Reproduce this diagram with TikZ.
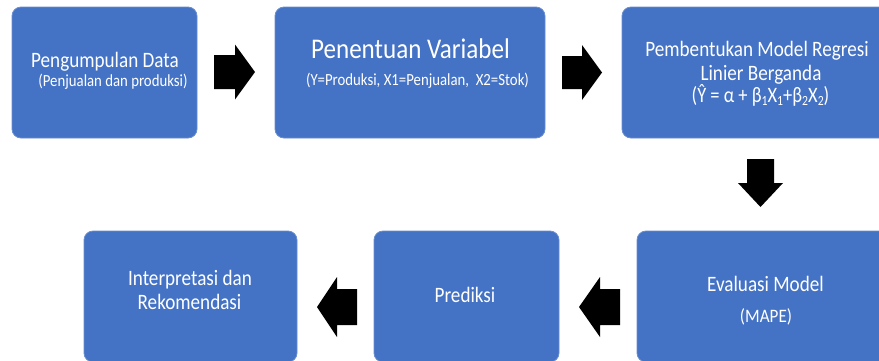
\documentclass[tikz,border=0pt]{standalone}
\usepackage{graphicx}
\usepackage{fontspec}
\setmainfont{Carlito}
\definecolor{boxblue}{HTML}{4472C4}
\newcommand{\fsz}[1]{\fontsize{#1}{#1}\selectfont}
\newcommand{\sbs}[1]{\raisebox{-0.3ex}{\fsz{14}#1}}
\newcommand{\hs}[2][0.87]{\scalebox{#1}[1]{#2}}
\begin{document}
\begin{tikzpicture}[x=1pt,y=-1pt,
  blk/.style={fill=boxblue,draw=boxblue!80!white,line width=0.8pt,rounded corners=9pt,inner sep=0pt},
  txt/.style={text=white,inner sep=0pt,anchor=base},
  big/.style={txt,font=\fsz{22}},
  huge/.style={txt,font=\fsz{28.5}},
  small/.style={txt,font=\fsz{17}},
  mid/.style={txt,font=\fsz{19}}]
\useasboundingbox (0,0) rectangle (879,360);
\clip (0,0) rectangle (879,360);
% boxes
\node[blk,minimum width=185pt,minimum height=131pt] (b1) at (104.5,72.5) {};
\node[blk,minimum width=270pt,minimum height=131pt] (b2) at (410,72.5) {};
\node[blk,minimum width=268pt,minimum height=131pt] (b3) at (756,72.5) {};
\node[blk,minimum width=256pt,minimum height=131pt] (b4) at (765,296.5) {};
\node[blk,minimum width=185pt,minimum height=131pt] (b5) at (466.5,296.5) {};
\node[blk,minimum width=213pt,minimum height=131pt] (b6) at (190.5,296.5) {};
% texts
\node[big] (t1a) at (105,67.3) {\hs{Pengumpulan Data}};
\node[small] (t1b) at (113,86) {\hs{(Penjualan dan produksi)}};
\node[huge] (t2a) at (410.5,58.3) {\hs[0.88]{Penentuan Variabel}};
\node[small] (t2b) at (417.5,85) {\hs{(Y=Produksi, X1=Penjualan,\ \ X2=Stok)}};
\node[big] (t3a) at (757,56) {\hs{Pembentukan Model Regresi}};
\node[big] (t3b) at (761,80) {\hs{Linier Berganda}};
\node[big] (t3c) at (760.5,102.7) {\hs[0.84]{(Ŷ = α + β\sbs{1}X\sbs{1}+β\sbs{2}X\sbs{2})}};
\node[big] (t4a) at (765.5,291) {\hs{Evaluasi Model}};
\node[mid] (t4b) at (766,322.7) {\hs[0.9]{(MAPE)}};
\node[big] (t5) at (465,302.7) {\hs{Prediksi}};
\node[big] (t6a) at (190,285) {\hs{Interpretasi dan}};
\node[big] (t6b) at (189.5,309.3) {\hs{Rekomendasi}};
% block arrows
\newcommand{\blockarrow}[7]{%
  \begin{scope}[shift={(#1,#2)},rotate=#3]
    \fill[black] (-#4/2,-#6) -- (#4/2-#5,-#6) -- (#4/2-#5,-#7) -- (#4/2,0)
      -- (#4/2-#5,#7) -- (#4/2-#5,#6) -- (-#4/2,#6) -- cycle;
  \end{scope}}
\blockarrow{234.5}{72}{0}{41}{20}{17}{27.5}
\blockarrow{582}{72.5}{0}{40}{20}{16.5}{27.5}
\blockarrow{760.5}{183}{-90}{48}{24}{13.5}{22.5}
\blockarrow{599.5}{307}{180}{41}{21}{18}{30}
\blockarrow{337}{307}{180}{40}{20}{18}{30}
\end{tikzpicture}
\end{document}
